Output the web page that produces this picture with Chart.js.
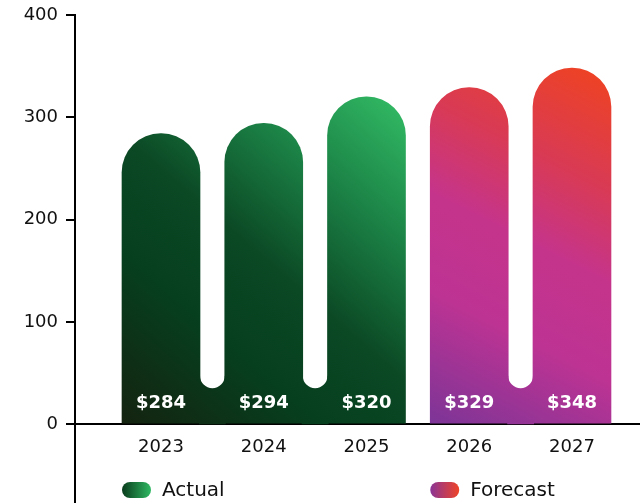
<!DOCTYPE html>
<html>
<head>
<meta charset="utf-8">
<script src="https://cdn.jsdelivr.net/npm/chart.js@4/dist/chart.umd.min.js"></script>
<style>
  html, body { margin: 0; padding: 0; background: #ffffff; }
  canvas { display: block; }
</style>
</head>
<body>
<canvas id="chart" width="640" height="503" style="width:640px;height:503px"></canvas>
<script>
// Revenue by year, actual vs forecast
const years = ['2023', '2024', '2025', '2026', '2027'];
const revenue = [284, 294, 320, 329, 348];
const seriesOf = [0, 0, 0, 1, 1];
const seriesNames = ['Actual', 'Forecast'];
const yTicks = [0, 100, 200, 300, 400];

// Styling
const FONT = 'DejaVu Sans';
const INK = '#111111';
const BAR_W = 78;
const NOTCH_LIFT = 36;           // px from baseline to the bottom of the gap between joined bars
const fillStops = [
  [[0, '#14230f'], [0.3, '#063f1e'], [0.5, '#0b4824'], [0.75, '#1c8447'], [1, '#33bd66']],
  [[0, '#7c3597'], [0.3, '#bd3393'], [0.52, '#c5348b'], [0.72, '#d83a56'], [1, '#f0431f']]
];
const swatchStops = [['#0a3c1c', '#2fb963'], ['#8a3596', '#ef4327']];

function indicesOf(s) {
  return revenue.map((_, i) => i).filter(i => seriesOf[i] === s);
}

// One diagonal gradient spans every bar of a series, bottom-left to top-right
function seriesGradient(chart, s) {
  const xs = chart.scales.x, ys = chart.scales.y;
  const idx = indicesOf(s);
  const left = xs.getPixelForValue(idx[0]) - BAR_W / 2;
  const right = xs.getPixelForValue(idx[idx.length - 1]) + BAR_W / 2;
  const bottom = ys.getPixelForValue(0);
  const top = ys.getPixelForValue(Math.max(...idx.map(i => revenue[i])));
  const g = chart.ctx.createLinearGradient(left, bottom, right, top);
  fillStops[s].forEach(([o, c]) => g.addColorStop(o, c));
  return g;
}

// Joins neighbouring bars of the same series at the base, leaving a rounded gap
const joinPlugin = {
  id: 'joinBars',
  beforeDatasetsDraw(chart) {
    const meta = chart.getDatasetMeta(0);
    const base = chart.scales.y.getPixelForValue(0);
    const ctx = chart.ctx;
    for (let i = 0; i < revenue.length - 1; i++) {
      if (seriesOf[i] !== seriesOf[i + 1]) continue;
      const a = meta.data[i], b = meta.data[i + 1];
      const gl = a.x + a.width / 2, gr = b.x - b.width / 2;
      const r = (gr - gl) / 2, cx = (gl + gr) / 2, cy = base - NOTCH_LIFT - r;
      ctx.save();
      ctx.beginPath();
      ctx.moveTo(gl - 1, base);
      ctx.lineTo(gl - 1, cy);
      ctx.lineTo(gl, cy);
      ctx.arc(cx, cy, r, Math.PI, 0, true);
      ctx.lineTo(gr + 1, cy);
      ctx.lineTo(gr + 1, base);
      ctx.closePath();
      ctx.fillStyle = seriesGradient(chart, seriesOf[i]);
      ctx.fill();
      ctx.restore();
    }
  },
  afterDatasetsDraw(chart) {
    const meta = chart.getDatasetMeta(0);
    const base = chart.scales.y.getPixelForValue(0);
    const ctx = chart.ctx;
    ctx.save();
    ctx.fillStyle = '#ffffff';
    ctx.font = 'bold 18px "' + FONT + '"';
    ctx.textAlign = 'center';
    ctx.textBaseline = 'middle';
    meta.data.forEach((bar, i) => {
      ctx.fillText('$' + revenue[i], bar.x, base - 21);
    });
    ctx.restore();
  },
  afterDraw(chart) {
    const meta = chart.getDatasetMeta(0);
    const ctx = chart.ctx;
    const cy = 490, w = 29, h = 16;
    ctx.save();
    seriesNames.forEach((name, s) => {
      const first = meta.data[indicesOf(s)[0]];
      const left = first.x - first.width / 2;
      const g = ctx.createLinearGradient(left, 0, left + w, 0);
      g.addColorStop(0, swatchStops[s][0]);
      g.addColorStop(1, swatchStops[s][1]);
      ctx.beginPath();
      ctx.roundRect(left, cy - h / 2, w, h, h / 2);
      ctx.fillStyle = g;
      ctx.fill();
      ctx.fillStyle = INK;
      ctx.font = '20px "' + FONT + '"';
      ctx.textAlign = 'left';
      ctx.textBaseline = 'middle';
      ctx.fillText(name, left + w + 11, cy + 1);
    });
    ctx.restore();
  }
};

new Chart(document.getElementById('chart'), {
  type: 'bar',
  data: {
    datasets: [{
      data: revenue.map((v, i) => ({ x: i, y: v })),
      barThickness: BAR_W,
      borderRadius: { topLeft: BAR_W / 2, topRight: BAR_W / 2, bottomLeft: 0, bottomRight: 0 },
      borderSkipped: 'start',
      backgroundColor: (c) => {
        const ch = c.chart;
        if (!ch.chartArea || c.dataIndex === undefined) return 'transparent';
        return seriesGradient(ch, seriesOf[c.dataIndex]);
      }
    }]
  },
  options: {
    responsive: false,
    animation: false,
    devicePixelRatio: 1,
    layout: { padding: { top: 15, right: 0, bottom: 0, left: 0 } },
    plugins: { legend: { display: false }, tooltip: { enabled: false } },
    scales: {
      x: {
        type: 'linear',
        position: { y: 0 },
        offset: false,
        min: -0.837,
        max: 4.662,
        afterBuildTicks: (s) => { s.ticks = years.map((_, i) => ({ value: i })); },
        afterFit: (s) => { s.height = 0; s.paddingLeft = 0; s.paddingRight = 0; s.paddingTop = 0; s.paddingBottom = 0; },
        ticks: {
          callback: (v) => years[v] ?? '',
          font: { family: FONT, size: 18 },
          color: INK,
          padding: 12,
          autoSkip: false,
          maxRotation: 0
        },
        grid: { display: false, drawTicks: false, offset: false },
        border: { display: true, color: '#000000', width: 2 }
      },
      y: {
        min: -77,
        max: 400,
        afterBuildTicks: (s) => { s.ticks = yTicks.map(v => ({ value: v })); },
        afterFit: (s) => { s.width = 75; s.paddingTop = 0; s.paddingBottom = 0; },
        ticks: { font: { family: FONT, size: 18 }, color: INK, padding: 8 },
        grid: { drawOnChartArea: false, drawTicks: true, tickLength: 9, color: '#000000', lineWidth: 2 },
        border: { display: true, color: '#000000', width: 2 }
      }
    }
  },
  plugins: [joinPlugin]
});
</script>
</body>
</html>
